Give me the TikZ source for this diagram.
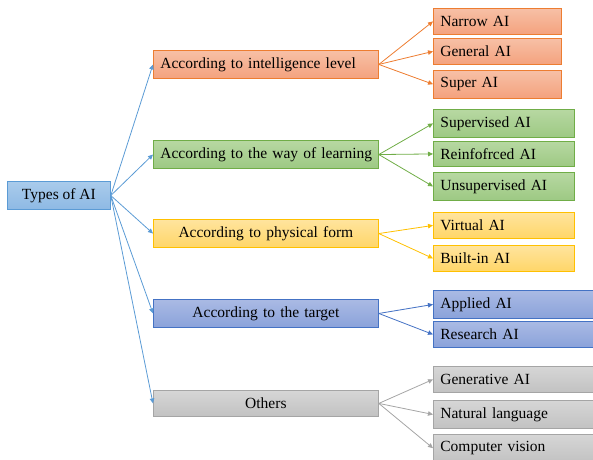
\documentclass[tikz,border=0pt]{standalone}
\usepackage{fontspec}
\setmainfont{Liberation Serif}
\usepackage{xcolor}
\usepackage{tikz}
\usetikzlibrary{
  arrows.meta,
  positioning
}
\definecolor{RootLine}{RGB}{91, 155, 213}
\definecolor{RootTop}{RGB}{170, 203, 235}
\definecolor{RootBottom}{RGB}{141, 185, 228}
\definecolor{OrangeLine}{RGB}{237, 125, 49}
\definecolor{OrangeTop}{RGB}{247, 192, 166}
\definecolor{OrangeBottom}{RGB}{244, 162, 126}
\definecolor{GreenLine}{RGB}{112, 173, 71}
\definecolor{GreenTop}{RGB}{183, 216, 162}
\definecolor{GreenBottom}{RGB}{157, 201, 131}
\definecolor{YellowLine}{RGB}{255, 192, 0}
\definecolor{YellowTop}{RGB}{255, 228, 158}
\definecolor{YellowBottom}{RGB}{255, 214, 104}
\definecolor{BlueLine}{RGB}{68, 114, 196}
\definecolor{BlueTop}{RGB}{170, 186, 228}
\definecolor{BlueBottom}{RGB}{138, 162, 218}
\definecolor{GrayLine}{RGB}{165, 165, 165}
\definecolor{GrayTop}{RGB}{214, 214, 214}
\definecolor{GrayBottom}{RGB}{194, 194, 194}
\tikzset{
    box/.style={
        rectangle, draw, line width=0.8pt, anchor=north west,
        inner sep=7pt, minimum height=26pt,
        font=\fontsize{15.5}{18}\selectfont
    },
    midbox/.style={box, minimum width=225pt, text width=211pt},
    leafbox/.style={box, minimum width=#1pt, text width=#1pt-14pt, align=left},
    orangebox/.style={draw=OrangeLine, top color=OrangeTop, bottom color=OrangeBottom},
    greenbox/.style={draw=GreenLine, top color=GreenTop, bottom color=GreenBottom},
    yellowbox/.style={draw=YellowLine, top color=YellowTop, bottom color=YellowBottom},
    bluebox/.style={draw=BlueLine, top color=BlueTop, bottom color=BlueBottom},
    graybox/.style={draw=GrayLine, top color=GrayTop, bottom color=GrayBottom},
    link/.style={line width=0.8pt, -{Triangle[length=5pt, width=4.5pt]}}
}

\begin{document}
\begin{tikzpicture}[x=1pt, y=-1pt]
    \useasboundingbox (0,0) rectangle (593,459);

    % root
    \node[box, minimum width=103pt, align=center, draw=RootLine, top color=RootTop, bottom color=RootBottom] (types) at (7,181) {Types of AI};

    % categories
    \node[midbox, align=left, orangebox] (intel) at (153,50) {\mbox{According to intelligence level}};
    \node[midbox, align=left, greenbox, minimum height=27pt] (learn) at (153,140) {\mbox{According to the way of learning}};
    \node[midbox, align=center, yellowbox, minimum height=25pt] (phys) at (153,219) {According to physical form};
    \node[midbox, align=center, bluebox] (target) at (153,299) {According to the target};
    \node[midbox, align=center, graybox] (others) at (153,390) {Others};

    % leaves
    \node[leafbox=128, orangebox] (narrow) at (433,8) {Narrow AI};
    \node[leafbox=128, orangebox] (general) at (433,38) {General AI};
    \node[leafbox=128, orangebox] (super) at (433,70) {Super AI};

    \node[leafbox=141, greenbox] (superv) at (433,109) {Supervised AI};
    \node[leafbox=141, greenbox, minimum height=25pt] (reinf) at (433,141) {Reinfofrced AI};
    \node[leafbox=141, greenbox, minimum height=25pt] (unsup) at (433,172) {Unsupervised AI};

    \node[leafbox=141, yellowbox] (virtual) at (433,212) {Virtual AI};
    \node[leafbox=141, yellowbox] (builtin) at (433,245) {Built-in AI};

    \node[leafbox=165, bluebox] (applied) at (433,290) {Applied AI};
    \node[leafbox=165, bluebox] (research) at (433,321) {Research AI};

    \node[leafbox=165, graybox] (generative) at (433,366) {Generative AI};
    \node[leafbox=165, graybox] (natural) at (433,400) {Natural language};
    \node[leafbox=165, graybox, minimum height=25pt] (vision) at (433,434) {Computer vision};

    % connectors
    \foreach \cat in {intel, learn, phys, target, others}
        \draw[link, RootLine] (types.east) -- (\cat.west);
    \foreach \leaf in {narrow, general, super}
        \draw[link, OrangeLine] (intel.east) -- (\leaf.west);
    \foreach \leaf in {superv, reinf, unsup}
        \draw[link, GreenLine] (learn.east) -- (\leaf.west);
    \foreach \leaf in {virtual, builtin}
        \draw[link, YellowLine] (phys.east) -- (\leaf.west);
    \foreach \leaf in {applied, research}
        \draw[link, BlueLine] (target.east) -- (\leaf.west);
    \foreach \leaf in {generative, natural, vision}
        \draw[link, GrayLine] (others.east) -- (\leaf.west);
\end{tikzpicture}
\end{document}
